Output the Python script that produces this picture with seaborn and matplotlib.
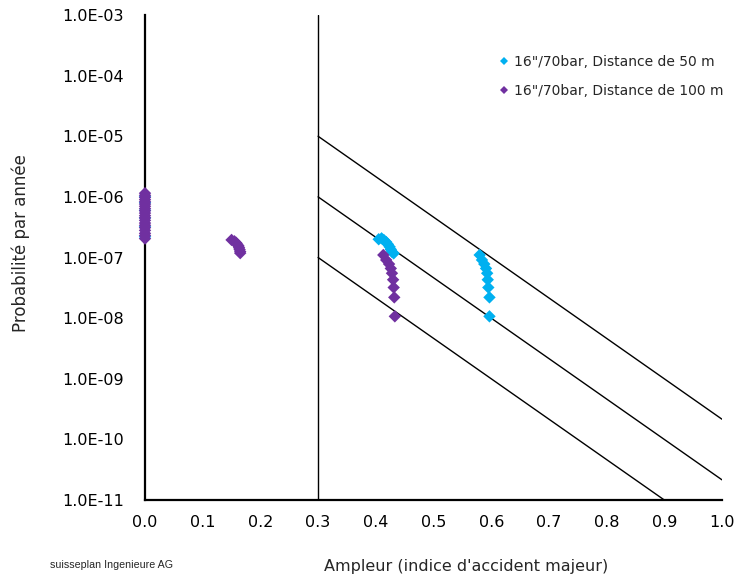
import matplotlib
matplotlib.use("Agg")
import matplotlib.pyplot as plt
import matplotlib.ticker as mticker
import seaborn as sns
import pandas as pd
import numpy as np

# ---- data ----
series_labels = ['16"/70bar, Distance de 50 m', '16"/70bar, Distance de 100 m']
colors = ["#00B0F0", "#7030A0"]

# 50 m series
x50 = [0.0, 0.0, 0.0, 0.0, 0.0, 0.0,
       0.405, 0.41, 0.414, 0.418, 0.421, 0.424, 0.426, 0.428, 0.431,
       0.580, 0.584, 0.588, 0.591, 0.593, 0.594, 0.595, 0.597, 0.597]
y50 = [1.0e-6, 8.0e-7, 6.0e-7, 4.5e-7, 3.2e-7, 2.2e-7,
       2.0e-7, 2.07e-7, 1.94e-7, 1.8e-7, 1.65e-7, 1.5e-7, 1.36e-7, 1.24e-7, 1.17e-7,
       1.1e-7, 9.1e-8, 7.8e-8, 6.6e-8, 5.5e-8, 4.3e-8, 3.2e-8, 2.2e-8, 1.07e-8]

# 100 m series
x100 = [0.0] * 20 + [
        0.150, 0.155, 0.158, 0.160, 0.162, 0.163, 0.164, 0.165, 0.165,
        0.413, 0.418, 0.423, 0.426, 0.428, 0.430, 0.431, 0.432, 0.433]
y100 = [1.15e-6, 1.06e-6, 9.8e-7, 9.0e-7, 8.3e-7, 7.6e-7, 7.0e-7, 6.4e-7, 5.9e-7, 5.4e-7,
        4.9e-7, 4.5e-7, 4.1e-7, 3.7e-7, 3.4e-7, 3.1e-7, 2.8e-7, 2.5e-7, 2.3e-7, 2.05e-7,
        1.95e-7, 1.85e-7, 1.75e-7, 1.65e-7, 1.55e-7, 1.45e-7, 1.35e-7, 1.25e-7, 1.18e-7,
        1.1e-7, 9.1e-8, 7.8e-8, 6.6e-8, 5.5e-8, 4.3e-8, 3.2e-8, 2.2e-8, 1.07e-8]

# criterion lines (endpoints)
crit_x = [[0.3, 1.0], [0.3, 1.0], [0.3, 0.9]]
crit_y = [[1e-5, 2.15e-10], [1e-6, 2.15e-11], [1e-7, 1e-11]]

xticks = [0.0, 0.1, 0.2, 0.3, 0.4, 0.5, 0.6, 0.7, 0.8, 0.9, 1.0]
yticks = [1e-3, 1e-4, 1e-5, 1e-6, 1e-7, 1e-8, 1e-9, 1e-10, 1e-11]

df = pd.DataFrame({
    "x": x50 + x100,
    "y": y50 + y100,
    "serie": [series_labels[0]] * len(x50) + [series_labels[1]] * len(x100),
})

sns.set_theme(style="white")
plt.rcParams["font.family"] = ["DejaVu Sans"]

fig = plt.figure(figsize=(7.4, 5.78), dpi=100)
ax = fig.add_axes([145 / 740, (578 - 500) / 578, (722 - 145) / 740, (500 - 15) / 578])

sns.scatterplot(data=df, x="x", y="y", hue="serie", palette=colors,
                marker="D", s=40, edgecolor="none", linewidth=0, ax=ax,
                zorder=3, clip_on=False)

ax.set_yscale("log")
ax.set_xlim(0, 1.0)
ax.set_ylim(1e-11, 1e-3)

# vertical separator and criterion lines
ax.plot([0.3, 0.3], [1e-11, 1e-3], color="black", lw=1.0, zorder=2)
for cx, cy in zip(crit_x, crit_y):
    ax.plot(cx, cy, color="black", lw=1.0, zorder=2)

ax.set_xticks(xticks)
ax.set_xticklabels([f"{v:.1f}" for v in xticks])
ax.set_yticks(yticks)
ax.yaxis.set_major_formatter(mticker.FuncFormatter(
    lambda v, p: "1.0E-%02d" % int(round(-np.log10(v)))))
ax.yaxis.set_minor_locator(mticker.NullLocator())

for s in ["top", "right"]:
    ax.spines[s].set_visible(False)
for s in ["left", "bottom"]:
    ax.spines[s].set_color("black")
    ax.spines[s].set_linewidth(1.6)

ax.tick_params(axis="both", which="major", direction="out", length=5, width=1,
               color="black", labelsize=11.5, labelcolor="black", pad=6)
ax.tick_params(axis="y", pad=10)

ax.set_xlabel("Ampleur (indice d'accident majeur)", fontsize=11.5)
ax.xaxis.set_label_coords((466 - 145) / 577, -(566 - 500) / 485)
ax.xaxis.label.set_va("center")
ax.set_ylabel("Probabilité par année", fontsize=12)
ax.yaxis.set_label_coords(-(145 - 21) / 577, (500 - 243) / 485)
ax.yaxis.label.set_va("center")

leg = ax.legend(loc="upper left", bbox_to_anchor=(493 / 740, 1 - 49 / 578),
                bbox_transform=fig.transFigure, borderaxespad=0, frameon=False,
                fontsize=10, handlelength=0.8, handletextpad=0.3,
                labelspacing=1.1, markerscale=0.7)

fig.text(50 / 740, 1 - 565 / 578, "suisseplan Ingenieure AG", fontsize=7.7,
         family="Liberation Sans", va="center", ha="left")

fig.savefig("out.png", dpi=100)
